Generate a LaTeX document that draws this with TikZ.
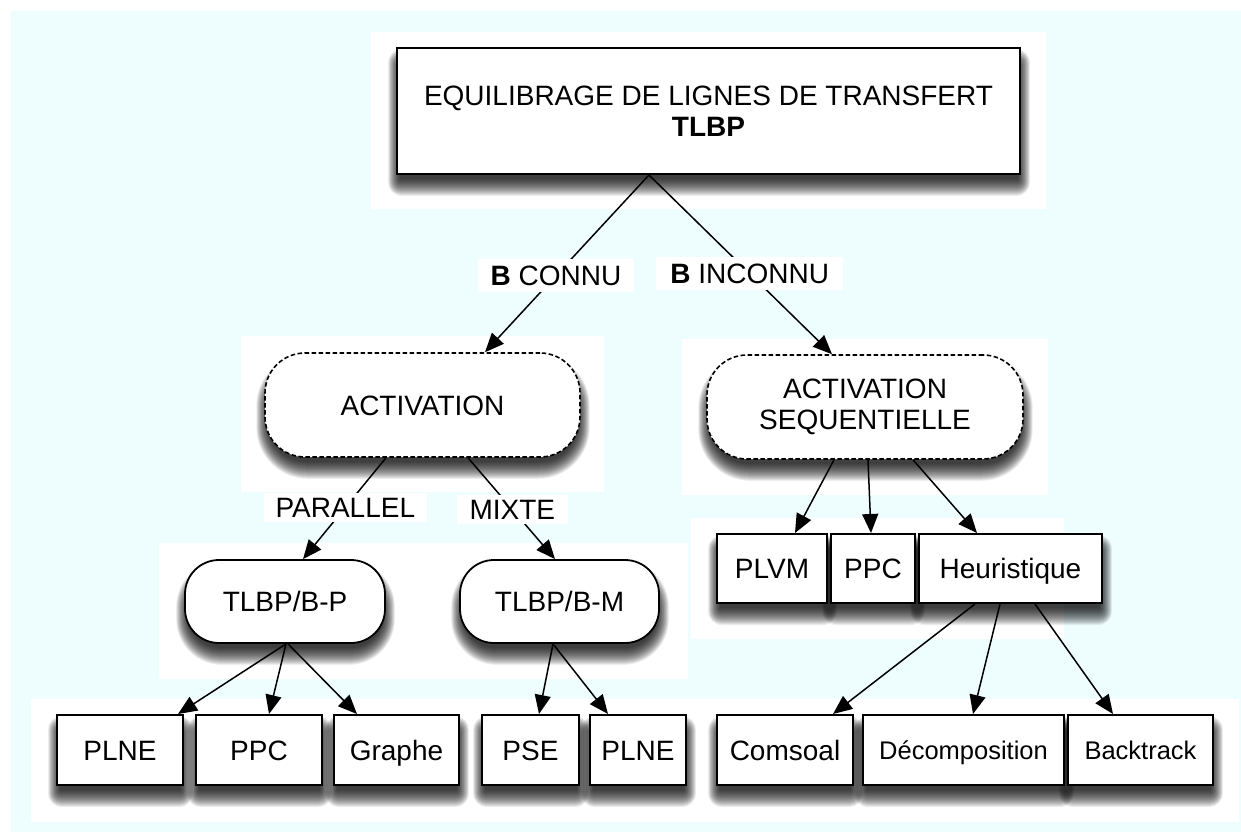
\documentclass[tikz,border=0pt]{standalone}
\usepackage{fontspec}
\setmainfont{Liberation Sans}
\usetikzlibrary{arrows.meta,calc}

\definecolor{canvas}{RGB}{238,254,255}

\pgfdeclarelayer{back}
\pgfsetlayers{back,main}

% soft drop shadow built from stacked translucent outlines
\newcommand\castshadow[2]{%
  \foreach \s in {0,...,17}{
    \fill[black, opacity=0.07, rounded corners={#2+\s*0.8pt}]
      ($(#1.south west)+(4pt-\s*0.7pt,-4pt-\s*1pt)$) rectangle
      ($(#1.north east)+(-3pt+\s*0.7pt,-19pt+\s*1pt)$);
  }}

\begin{document}
\begin{tikzpicture}[x=1pt,y=1pt,
  every node/.style={font=\fontsize{28}{31}\selectfont, inner sep=0pt, align=center},
  box/.style={draw=black, line width=2pt, fill=white},
  oneline/.style={text height=20pt, text depth=0pt},
  dashbox/.style={box, rounded corners=40pt, line width=1.6pt, dash pattern=on 4.5pt off 2.5pt},
  pill/.style={box, oneline, rounded corners=34pt, line width=1.8pt},
  rect/.style={box, oneline},
  lbl/.style={fill=white, inner xsep=13pt, inner ysep=6pt, text height=20pt, text depth=0pt},
  plain/.style={line width=1.5pt},
  link/.style={plain, -{Triangle[length=19pt,width=16pt]}},
  small/.style={font=\fontsize{25.5}{30}\selectfont}
]
\useasboundingbox (0,0) rectangle (1241,-834);

% root
\node[box, minimum width=623pt, minimum height=126pt] (top) at (708.5,-111)
  {EQUILIBRAGE DE LIGNES DE TRANSFERT\\\textbf{TLBP}};

% activation modes
\node[dashbox, oneline, minimum width=315pt, minimum height=104pt] (act) at (422.5,-405) {ACTIVATION};
\node[dashbox, minimum width=316pt, minimum height=104pt] (seq) at (865,-407)
  {ACTIVATION\\SEQUENTIELLE};

% sub-problems
\node[pill, minimum width=200pt, minimum height=83pt] (bp) at (285,-601.5) {TLBP/B-P};
\node[pill, minimum width=199pt, minimum height=83pt] (bm) at (559.5,-601.5) {TLBP/B-M};

% methods under sequential activation
\node[rect, minimum width=110pt, minimum height=69pt] (plvm) at (772,-568.5) {PLVM};
\node[rect, minimum width=84pt, minimum height=69pt] (ppcs) at (873,-568.5) {PPC};
\node[rect, minimum width=183pt, minimum height=69pt] (heur) at (1010.5,-568.5) {Heuristique};

% bottom row
\node[rect, minimum width=126pt, minimum height=70pt] (plnea) at (120,-750) {PLNE};
\node[rect, minimum width=126pt, minimum height=70pt] (ppca) at (259,-750) {PPC};
\node[rect, minimum width=125pt, minimum height=70pt] (graphe) at (396.5,-750) {Graphe};
\node[rect, minimum width=97pt, minimum height=70pt] (pse) at (530.5,-750) {PSE};
\node[rect, minimum width=96pt, minimum height=70pt] (plneb) at (638,-750) {PLNE};
\node[rect, minimum width=136pt, minimum height=70pt] (comsoal) at (785,-750) {Comsoal};
\node[rect, small, text height=18.5pt, minimum width=201pt, minimum height=70pt] (decomp) at (963.5,-750) {Décomposition};
\node[rect, small, text height=18.5pt, minimum width=145pt, minimum height=70pt] (backtrack) at (1140.5,-750) {Backtrack};

% background, group panels and shadows
\begin{pgfonlayer}{back}
  \fill[white] (0,0) rectangle (1241,-834);
  \fill[canvas] (11,-11) rectangle (1241,-832);
  \fill[white] (371,-32) rectangle (1046,-209);
  \fill[white] (241,-336) rectangle (604,-492);
  \fill[white] (682,-339) rectangle (1048,-495);
  \fill[white] (159,-543) rectangle (688,-679);
  \fill[white] (691,-518) rectangle (1064,-639);
  \fill[white] (31,-699) rectangle (1239,-822);
  \castshadow{top}{0pt}
  \castshadow{act}{38pt}
  \castshadow{seq}{38pt}
  \castshadow{bp}{32pt}
  \castshadow{bm}{32pt}
  \foreach \n in {plvm,ppcs,heur,plnea,ppca,graphe,pse,plneb,comsoal,decomp,backtrack}
    {\castshadow{\n}{0pt}}
\end{pgfonlayer}

% connectors from the root
\draw[link] ([xshift=-59.5pt]top.south) -- node[lbl, pos=0.567, inner ysep=6.5pt] {\textbf{B} CONNU}
  ([xshift=62.5pt]act.north);
\draw[link] ([xshift=-59.5pt]top.south) -- node[lbl, pos=0.55, inner ysep=6.5pt, inner xsep=14pt] {\textbf{B} INCONNU}
  ([xshift=-33pt]seq.north);

% connectors from ACTIVATION
\draw[link] ([xshift=-36.5pt]act.south) -- node[lbl, pos=0.49, inner ysep=4.5pt, inner xsep=12pt] {PARALLEL}
  ([xshift=18pt]bp.north);
\draw[link] ([xshift=45.5pt]act.south) -- node[lbl, pos=0.51, inner ysep=4.5pt] {MIXTE}
  ([xshift=-4.5pt]bm.north);

% connectors from ACTIVATION SEQUENTIELLE
\draw[link] ([xshift=-31pt]seq.south) -- ([xshift=23pt]plvm.north);
\draw[link] ([xshift=3pt]seq.south) -- ([xshift=-2pt]ppcs.north);
\draw[link] ([xshift=48pt]seq.south) -- ([xshift=-33.5pt]heur.north);

% connectors from Heuristique
\draw[link] ([xshift=-35.5pt]heur.south) -- ([xshift=48pt]comsoal.north);
\draw[link] ([xshift=-10.5pt]heur.south) -- ([xshift=9.5pt]decomp.north);
\draw[link] ([xshift=24.5pt]heur.south) -- ([xshift=-27.5pt]backtrack.north);

% connectors from TLBP/B-P and TLBP/B-M
\draw[link] ([xshift=1pt]bp.south) -- ([xshift=58pt]plnea.north);
\draw[link] ([xshift=1pt]bp.south) -- ([xshift=10pt]ppca.north);
\draw[link] ([xshift=3pt]bp.south) -- ([xshift=-39.5pt]graphe.north);
\draw[link] ([xshift=-6.5pt]bm.south) -- ([xshift=8.5pt]pse.north);
\draw[link] ([xshift=-6.5pt]bm.south) -- ([xshift=-30pt]plneb.north);
\end{tikzpicture}
\end{document}
